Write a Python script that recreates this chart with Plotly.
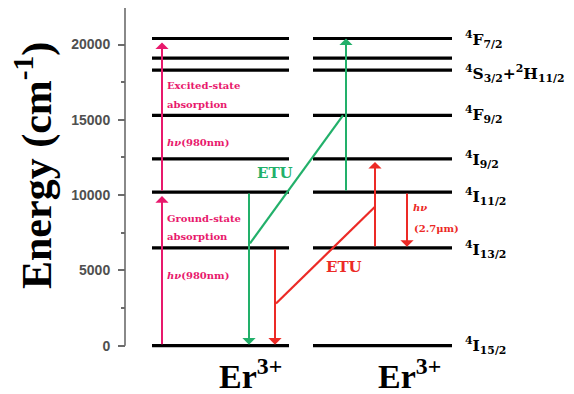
import plotly.graph_objects as go

# ---------------- data ----------------
level_energy = [0, 6500, 10200, 12400, 15300, 18300, 19100, 20400]   # cm^-1
level_labels = ["<sup>4</sup>I<sub>15/2</sub>", "<sup>4</sup>I<sub>13/2</sub>",
                "<sup>4</sup>I<sub>11/2</sub>", "<sup>4</sup>I<sub>9/2</sub>",
                "<sup>4</sup>F<sub>9/2</sub>", "<sup>4</sup>S<sub>3/2</sub>+<sup>2</sup>H<sub>11/2</sub>",
                None, "<sup>4</sup>F<sub>7/2</sub>"]
label_yshift = [0, -2, -4, -1, 1, -3, 0, -1]
tick_vals = [0, 5000, 10000, 15000, 20000]
tick_text = ["0", "5000", "10000", "15000", "20000"]
ion_label = "Er<sup>3+</sup>"

# arrows: (x position, energy from, energy to, colour key, standoff px)
arrows = [
    (162, 0, 10200, "pink", 4),
    (162, 10200, 20400, "pink", 4),
    (249, 10200, 0, "green", 1),
    (346, 10200, 20400, "green", 0),
    (275, 6500, 0, "red", 1),
    (375, 6500, 12400, "red", 3),
    (407, 10200, 6500, "red", 1),
]
# ETU diagonals: ((x0, E0), (x1, E1), colour key)
diagonals = [
    ((250, 6800), (343, 15300), "green"),
    ((276, 2800), (375, 9230), "red"),
]

colors = {"pink": "#e8196c", "green": "#22b06a", "red": "#ec2a26"}

# ---------------- layout geometry ----------------
# the page body adds an 8px offset, so the figure is drawn 8px smaller
OFF = 8
W, H = 574 - OFF, 394 - OFF
PL, PR, PT, PB = 120, 574, 8, 352          # plot box in window pixels
ML, MR, MT, MB = PL - OFF, 0, PT - OFF, 394 - PB
XR = [PL, PR]
YR = [-418, 22424]
groups = [(152, 289), (313, 452)]


def px(x):
    return (x - PL) / (PR - PL)


def py(y):
    return (PB - y) / (PB - PT)


fig = go.Figure()

# energy levels
xs, ys = [], []
for e in level_energy:
    for a, b in groups:
        xs += [a, b, None]
        ys += [e, e, None]
fig.add_trace(go.Scatter(x=xs, y=ys, mode="lines",
                         line=dict(color="black", width=3.2),
                         hoverinfo="skip", showlegend=False))

# ETU diagonals
for (x0, e0), (x1, e1), c in diagonals:
    fig.add_trace(go.Scatter(x=[x0, x1], y=[e0, e1], mode="lines",
                             line=dict(color=colors[c], width=2.2),
                             hoverinfo="skip", showlegend=False))

ann = []
for x, e0, e1, c, so in arrows:
    ann.append(dict(x=x, y=e1, ax=x, ay=e0, xref="x", yref="y", axref="x", ayref="y",
                    text="", showarrow=True, arrowhead=1, arrowsize=1.1, arrowwidth=2,
                    arrowcolor=colors[c], standoff=so))

# level labels
for e, lab, ys_ in zip(level_energy, level_labels, label_yshift):
    if lab is None:
        continue
    ann.append(dict(x=463, y=e, xref="x", yref="y", text="<b>%s</b>" % lab,
                    showarrow=False, xanchor="left", yanchor="middle", yshift=ys_,
                    font=dict(family="DejaVu Serif", size=15.5, color="black")))


def text_ann(x, y, t, font, xa="center"):
    return dict(x=px(x), y=py(y), xref="paper", yref="paper", text=t, showarrow=False,
                xanchor=xa, yanchor="middle", font=font)


# pink texts
small_serif = dict(family="DejaVu Serif", size=10, color=colors["pink"])
for t, yy in [("Excited-state", 86), ("absorption", 104), ("<i>hν</i>(980nm)", 142),
              ("Ground-state", 218), ("absorption", 236), ("<i>hν</i>(980nm)", 275)]:
    ann.append(text_ann(165, yy, "<b>%s</b>" % t, small_serif, "left"))

# ETU labels
ann.append(text_ann(275, 173, "<b>ETU</b>",
                    dict(family="DejaVu Serif", size=15, color=colors["green"])))
ann.append(text_ann(344, 267, "<b>ETU</b>",
                    dict(family="DejaVu Serif", size=15, color=colors["red"])))

# hv (2.7 um)
red_small = dict(family="DejaVu Serif", size=10, color=colors["red"])
ann.append(text_ann(411, 208, "<b><i>hν</i></b>", red_small, "left"))
ann.append(text_ann(412, 228, "<b>(2.7μm)</b>", red_small, "left"))

# ion labels
for cx in (250, 409):
    ann.append(text_ann(cx, 374, "<b>%s</b>" % ion_label,
                        dict(family="Liberation Serif", size=34, color="black")))

# y title
ya = text_ann(34, 166, "<b>Energy (cm<sup>-1</sup>)</b>",
              dict(family="Liberation Serif", size=42, color="black"))
ya["textangle"] = -90
ann.append(ya)

axis_col = "#6b6b6b"
fig.update_layout(
    width=W, height=H,
    margin=dict(l=ML, r=MR, t=MT, b=MB, pad=0, autoexpand=False),
    paper_bgcolor="white", plot_bgcolor="white",
    showlegend=False,
    annotations=ann,
    shapes=[dict(type="line", xref="x", yref="y", x0=125, x1=125, y0=0, y1=22424,
                 line=dict(color=axis_col, width=1.6))],
    xaxis=dict(range=XR, visible=False, fixedrange=True, automargin=False),
    yaxis=dict(range=YR, anchor="free", position=px(125), showline=False,
               showgrid=False, zeroline=False, automargin=False,
               tickmode="array", tickvals=tick_vals,
               ticktext=["<b>%s</b>" % t for t in tick_text],
               ticks="outside", ticklen=7, tickwidth=1.6, tickcolor=axis_col,
               ticklabelstandoff=5,
               tickfont=dict(family="Liberation Sans", size=14, color="#505050"),
               minor=dict(dtick=2500, tick0=0, ticks="outside", ticklen=4,
                          tickwidth=1.6, tickcolor=axis_col),
               fixedrange=True),
)

fig.write_html("out.html")
